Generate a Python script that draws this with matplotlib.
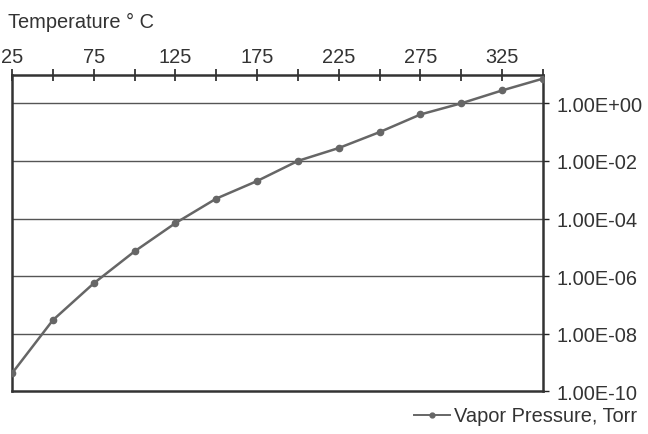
import matplotlib
matplotlib.use("Agg")
import matplotlib.pyplot as plt
from matplotlib.ticker import FixedLocator, FuncFormatter

# Data
temperature_c = [25, 50, 75, 100, 125, 150, 175, 200, 225, 250, 275, 300, 325, 350]
vapor_pressure_torr = [4.2e-10, 2.95e-8, 5.6e-7, 7.2e-6, 6.9e-5, 4.9e-4, 2.0e-3,
                       1.0e-2, 2.8e-2, 1.0e-1, 4.1e-1, 1.0, 2.8, 7.2]
x_ticks = list(range(25, 351, 25))
x_labels = [str(t) if (t - 25) % 50 == 0 and t < 350 else "" for t in x_ticks]
y_ticks = [1e-10, 1e-8, 1e-6, 1e-4, 1e-2, 1e0]
grid_levels = [1e-8, 1e-6, 1e-4, 1e-2, 1e0]

plt.rcParams['font.family'] = ['Liberation Sans', 'DejaVu Sans']
FS = 14.4
TC = '#333333'
W, H = 648, 435
fig = plt.figure(figsize=(W / 100, H / 100), dpi=100)
left, right, top, bottom = 12, 543, 75.5, 392.3
ax = fig.add_axes([left / W, 1 - bottom / H, (right - left) / W, (bottom - top) / H])

ax.set_yscale('log')
ax.set_xlim(25, 350)
ax.set_ylim(1e-10, 1e1)

for g in grid_levels:
    ax.axhline(g, color='#555555', lw=1.0, zorder=1)

ax.plot(temperature_c, vapor_pressure_torr, color='#666666', lw=1.8,
        marker='o', markersize=4.5, label='Vapor Pressure, Torr', zorder=3,
        clip_on=True)

ax.xaxis.tick_top()
ax.xaxis.set_major_locator(FixedLocator(x_ticks))
ax.set_xticklabels(x_labels)
ax.tick_params(axis='x', which='major', direction='inout', length=9, width=1.2,
               color='#222222', labelsize=FS, labelcolor=TC, pad=1.5)

ax.yaxis.tick_right()
ax.yaxis.set_major_locator(FixedLocator(y_ticks))
ax.yaxis.set_minor_locator(FixedLocator([]))
ax.yaxis.set_major_formatter(FuncFormatter(lambda v, p: f"{v:.2E}"))
ax.tick_params(axis='y', which='major', direction='out', length=4, width=1.0,
               color='#222222', labelsize=FS, labelcolor=TC, pad=6)

for s in ax.spines.values():
    s.set_color('#333333')
    s.set_linewidth(1.8)

fig.text(8 / W, 1 - 22 / H, 'Temperature ° C', fontsize=FS, color=TC,
         ha='left', va='center')

leg = ax.legend(loc='center right', bbox_to_anchor=(637 / W, 1 - 417 / H),
                bbox_transform=fig.transFigure, frameon=False, fontsize=FS,
                handlelength=1.8, handletextpad=0.2, borderaxespad=0, borderpad=0)
for t in leg.get_texts():
    t.set_color(TC)
for h in leg.legend_handles:
    h.set_linewidth(1.4)
    h.set_markersize(3.5)

fig.savefig('out.png', dpi=100)
